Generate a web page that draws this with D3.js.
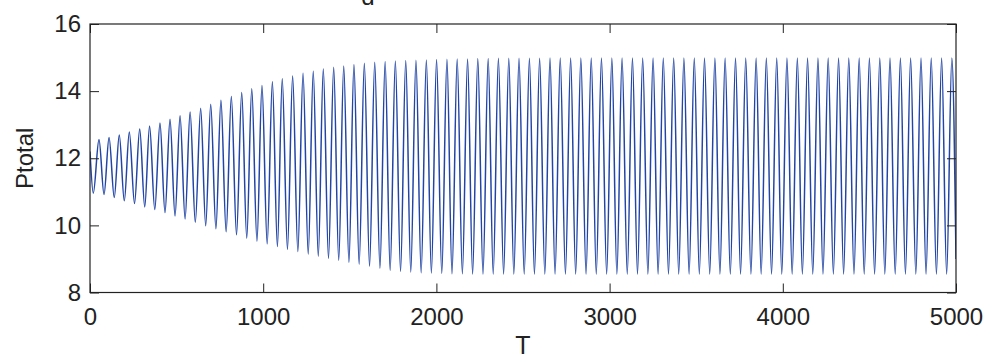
<!DOCTYPE html>
<html>
<head>
<meta charset="utf-8">
<script src="https://cdn.jsdelivr.net/npm/d3@7"></script>
<style>
  body { margin: 0; background: #fff; }
  text { font-family: "Liberation Sans", Arial, Helvetica, sans-serif; fill: #222; }
</style>
</head>
<body>
<div id="chart"></div>
<script>
// values: times and levels of every crest and trough
const startPoint = { t: 0, v: 12.2 };
const endPoint = { t: 5000, v: 9.0 };

const peakT = [
  52, 110, 169, 227, 287, 344, 404, 462, 520, 578, 639, 697, 756, 816,
  876, 934, 993, 1053, 1110, 1170, 1230, 1289, 1347, 1407, 1465, 1524, 1584, 1644,
  1704, 1763, 1823, 1882, 1942, 2001, 2061, 2120, 2180, 2239, 2299, 2358, 2418, 2477,
  2537, 2596, 2656, 2715, 2775, 2834, 2894, 2953, 3013, 3072, 3132, 3191, 3251, 3310,
  3370, 3429, 3489, 3548, 3608, 3667, 3727, 3786, 3846, 3905, 3965, 4024, 4084, 4143,
  4203, 4262, 4322, 4381, 4441, 4500, 4560, 4619, 4679, 4738, 4798, 4857, 4917, 4976
];
const peakV = [
  12.56, 12.62, 12.69, 12.78, 12.87, 12.96, 13.05, 13.16, 13.27, 13.38, 13.49, 13.61, 13.73, 13.84,
  13.96, 14.07, 14.17, 14.28, 14.37, 14.45, 14.53, 14.59, 14.66, 14.71, 14.75, 14.79, 14.83, 14.86,
  14.88, 14.90, 14.91, 14.92, 14.93, 14.94, 14.95, 14.96, 14.96, 14.97, 14.97, 14.98, 14.98, 14.98,
  14.98, 14.98, 14.99, 14.99, 14.99, 14.99, 14.99, 14.99, 14.99, 14.99, 14.99, 14.99, 14.99, 14.99,
  14.99, 14.99, 14.99, 14.99, 14.99, 14.99, 14.99, 14.99, 14.99, 14.99, 14.99, 14.99, 14.99, 14.99,
  14.99, 14.99, 14.99, 14.99, 14.99, 14.99, 14.99, 14.99, 14.99, 14.99, 14.99, 14.99, 14.99, 14.99
];
const troughT = [
  19, 81, 140, 198, 257, 316, 374, 433, 491, 549, 608, 668, 727, 786,
  846, 905, 964, 1023, 1082, 1140, 1200, 1260, 1318, 1377, 1436, 1495, 1554, 1614,
  1674, 1733, 1793, 1852, 1912, 1971, 2031, 2090, 2150, 2209, 2269, 2328, 2388, 2447,
  2507, 2566, 2626, 2685, 2745, 2804, 2864, 2923, 2983, 3042, 3102, 3161, 3221, 3280,
  3340, 3399, 3459, 3518, 3578, 3637, 3697, 3756, 3816, 3875, 3935, 3994, 4054, 4113,
  4173, 4232, 4292, 4351, 4411, 4470, 4530, 4589, 4649, 4708, 4768, 4827, 4887, 4946
];
const troughV = [
  10.96, 10.92, 10.83, 10.73, 10.65, 10.55, 10.47, 10.38, 10.28, 10.19, 10.09, 9.99, 9.90, 9.81,
  9.72, 9.62, 9.53, 9.45, 9.37, 9.29, 9.22, 9.15, 9.08, 9.02, 8.96, 8.90, 8.84, 8.78,
  8.72, 8.66, 8.63, 8.61, 8.59, 8.58, 8.57, 8.56, 8.56, 8.55, 8.55, 8.55, 8.55, 8.55,
  8.55, 8.55, 8.55, 8.55, 8.55, 8.55, 8.55, 8.55, 8.55, 8.55, 8.55, 8.55, 8.55, 8.55,
  8.55, 8.55, 8.55, 8.55, 8.55, 8.55, 8.55, 8.55, 8.55, 8.55, 8.55, 8.55, 8.55, 8.55,
  8.55, 8.55, 8.55, 8.55, 8.55, 8.55, 8.55, 8.55, 8.55, 8.55, 8.55, 8.55, 8.55, 8.55
];

const xTicks = [0, 1000, 2000, 3000, 4000, 5000];
const yTicks = [8, 10, 12, 14, 16];

const width = 997, height = 359;
const margin = { top: 24, right: 41, bottom: 66.5, left: 90 };
const innerW = width - margin.left - margin.right;
const innerH = height - margin.top - margin.bottom;

const points = [startPoint];
peakT.forEach((t, i) => {
  points.push({ t: troughT[i], v: troughV[i] });
  points.push({ t: t, v: peakV[i] });
});
points.push(endPoint);

const svg = d3.select('#chart')
  .append('svg')
  .attr('width', width)
  .attr('height', height);

const g = svg.append('g')
  .attr('transform', 'translate(' + margin.left + ',' + margin.top + ')');

const x = d3.scaleLinear().domain([0, 5000]).range([0, innerW]);
const y = d3.scaleLinear().domain([8, 16]).range([innerH, 0]);

// title sits above the window, only its bottom edge shows
svg.append('text')
  .attr('x', 368)
  .attr('y', 4.5)
  .style('font-size', '24px')
  .style('text-anchor', 'middle')
  .text('d');

g.append('defs').append('clipPath').attr('id', 'plot-clip')
  .append('rect').attr('width', innerW).attr('height', innerH);

const line = d3.line()
  .x(d => x(d.t))
  .y(d => y(d.v))
  .curve(d3.curveMonotoneX);

g.append('path')
  .datum(points)
  .attr('clip-path', 'url(#plot-clip)')
  .attr('fill', 'none')
  .attr('stroke', '#2346a6')
  .attr('stroke-width', 1.5)
  .attr('d', line);

function styleAxis(sel) {
  sel.select('.domain').remove();
  sel.selectAll('.tick line').attr('stroke', '#222').attr('stroke-width', 1);
  sel.selectAll('.tick text').style('font-size', '24px').attr('fill', '#222');
}

g.append('g')
  .attr('transform', 'translate(0,' + innerH + ')')
  .call(d3.axisBottom(x).tickValues(xTicks).tickFormat(d3.format('d'))
    .tickSizeInner(-9).tickSizeOuter(0).tickPadding(15))
  .call(styleAxis);

g.append('g')
  .call(d3.axisTop(x).tickValues(xTicks).tickSizeInner(-9).tickSizeOuter(0).tickFormat(''))
  .call(styleAxis);

g.append('g')
  .call(d3.axisLeft(y).tickValues(yTicks).tickSizeInner(-9).tickSizeOuter(0).tickPadding(9))
  .call(styleAxis);

g.append('g')
  .attr('transform', 'translate(' + innerW + ',0)')
  .call(d3.axisRight(y).tickValues(yTicks).tickSizeInner(-9).tickSizeOuter(0).tickFormat(''))
  .call(styleAxis);

g.append('rect')
  .attr('width', innerW)
  .attr('height', innerH)
  .attr('fill', 'none')
  .attr('stroke', '#222')
  .attr('stroke-width', 1.2);

svg.append('text')
  .attr('x', margin.left + innerW / 2)
  .attr('y', 354)
  .style('font-size', '25px')
  .style('text-anchor', 'middle')
  .text('T');

svg.append('text')
  .attr('transform', 'translate(33,' + (margin.top + innerH / 2) + ') rotate(-90)')
  .style('font-size', '24px')
  .style('text-anchor', 'middle')
  .text('Ptotal');
</script>
</body>
</html>
